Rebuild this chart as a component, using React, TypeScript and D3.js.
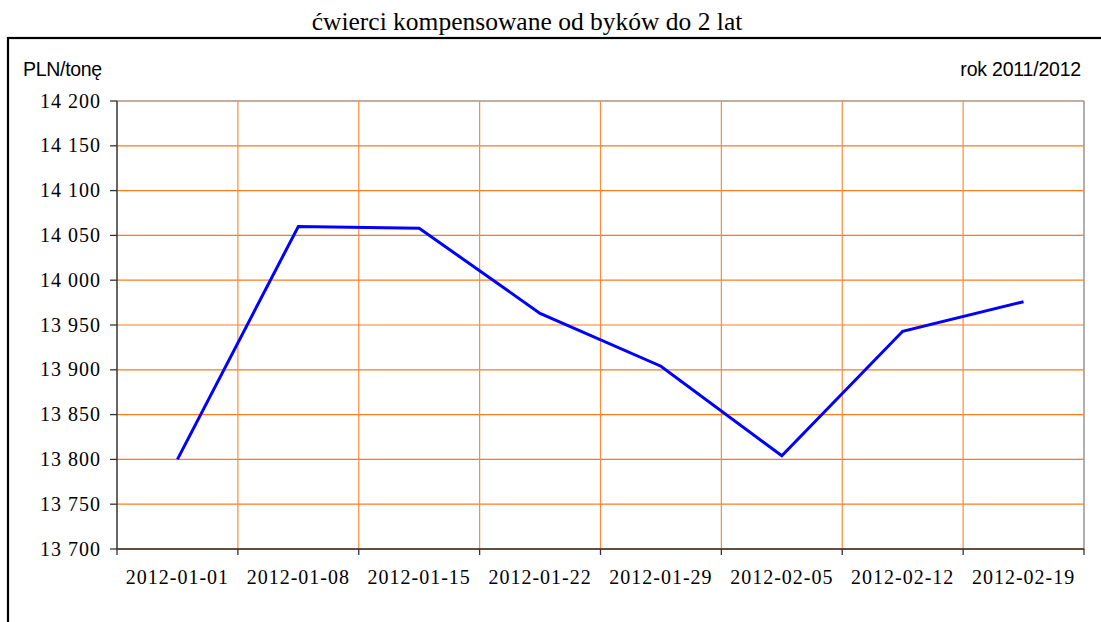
import React from "react";
import * as d3 from "d3";

const categories = ["2012-01-01", "2012-01-08", "2012-01-15", "2012-01-22", "2012-01-29", "2012-02-05", "2012-02-12", "2012-02-19"];
const values = [13800, 14060, 14058, 13963, 13904, 13804, 13943, 13976];
const yTicks = [13700, 13750, 13800, 13850, 13900, 13950, 14000, 14050, 14100, 14150, 14200];

const W = 1101;
const H = 622;
const plot = { left: 117, right: 1084, top: 101, bottom: 549 };

const fmt = (v: number) => {
  const s = String(v);
  return s.slice(0, s.length - 3) + " " + s.slice(-3);
};

export default function App() {
  const x = d3.scaleBand<string>().domain(categories).range([plot.left, plot.right]);
  const y = d3.scaleLinear().domain([13700, 14200]).range([plot.bottom, plot.top]);
  const line = d3
    .line<number>()
    .x((_, i) => (x(categories[i]) as number) + x.bandwidth() / 2)
    .y((d) => y(d));
  const boundaries = categories.map((c) => x(c) as number).concat([plot.right]);
  const serif = "'Liberation Serif', 'Times New Roman', serif";
  const sans = "'Liberation Sans', Arial, sans-serif";
  const grid = "#FF7A1A";

  return (
    <svg width={W} height={H} style={{ position: "absolute", left: 0, top: 0, background: "#fff" }}>
      <rect x={0} y={0} width={W} height={H} fill="#fff" />
      <text x={527} y={30} textAnchor="middle" fontFamily={serif} fontSize={25.5} fill="#000">
        ćwierci kompensowane od byków do 2 lat
      </text>
      <rect x={8} y={38} width={W + 20} height={H} fill="none" stroke="#000" strokeWidth={2.2} />
      <text x={23} y={76} fontFamily={sans} fontSize={19.5} fill="#000" letterSpacing={-0.3}>
        PLN/tonę
      </text>
      <text x={1081} y={76} textAnchor="end" fontFamily={sans} fontSize={19.5} fill="#000" letterSpacing={-0.2}>
        rok 2011/2012
      </text>
      <rect x={plot.left} y={plot.top} width={plot.right - plot.left} height={plot.bottom - plot.top} fill="none" stroke="#9a8c80" strokeWidth={1} />
      {yTicks.map((t) => (
        <line key={"h" + t} x1={plot.left} x2={plot.right} y1={y(t)} y2={y(t)} stroke={t === 14200 ? "#b09a88" : grid} strokeWidth={1.2} />
      ))}
      {boundaries.slice(1, -1).map((b, i) => (
        <line key={"v" + i} x1={b} x2={b} y1={plot.top} y2={plot.bottom} stroke="#FF8A3A" strokeWidth={1.2} />
      ))}
      <line x1={plot.right} x2={plot.right} y1={plot.top} y2={plot.bottom} stroke="#a0a0a0" strokeWidth={1.2} />
      <line x1={plot.left} x2={plot.left} y1={plot.top} y2={plot.bottom} stroke="#333" strokeWidth={1.3} />
      <line x1={plot.left} x2={plot.right} y1={plot.bottom} y2={plot.bottom} stroke="#333" strokeWidth={1.3} />
      {yTicks.map((t) => (
        <g key={"yt" + t}>
          <line x1={plot.left - 7} x2={plot.left} y1={y(t)} y2={y(t)} stroke="#333" strokeWidth={1.3} />
          <text x={101} y={y(t) + 6.5} textAnchor="end" fontFamily={serif} fontSize={20} letterSpacing={1} fill="#000">
            {fmt(t)}
          </text>
        </g>
      ))}
      {boundaries.map((b, i) => (
        <line key={"xt" + i} x1={b} x2={b} y1={plot.bottom} y2={plot.bottom + 6} stroke="#333" strokeWidth={1.3} />
      ))}
      {categories.map((c) => (
        <text key={c} x={(x(c) as number) + x.bandwidth() / 2} y={584} textAnchor="middle" fontFamily={serif} fontSize={20} letterSpacing={1} fill="#000">
          {c}
        </text>
      ))}
      <path d={line(values) || ""} fill="none" stroke="#0000FF" strokeWidth={3} strokeLinejoin="miter" />
    </svg>
  );
}
